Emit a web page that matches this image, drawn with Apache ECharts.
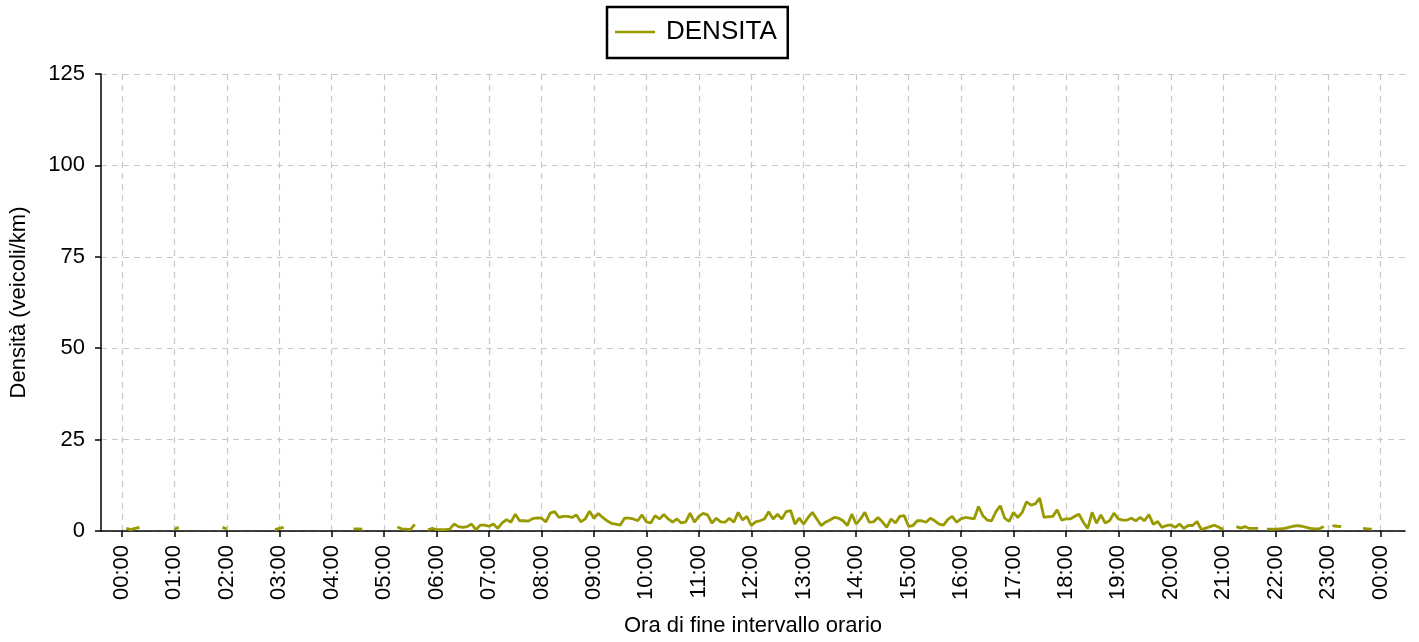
<!DOCTYPE html>
<html>
<head>
<meta charset="utf-8">
<script src="https://cdn.jsdelivr.net/npm/echarts@6/dist/echarts.min.js"></script>
<style>
  html, body { margin: 0; padding: 0; background: #fff; }
  #chart { width: 1419px; height: 642px; }
</style>
</head>
<body>
<div id="chart"></div>
<script>
// Tick positions (minutes from midnight) and labels
const hourTicks = [0, 60, 120, 180, 240, 300, 360, 420, 480, 540, 600, 660, 720,
                   780, 840, 900, 960, 1020, 1080, 1140, 1200, 1260, 1320, 1380, 1440];
const hourLabels = ['00:00','01:00','02:00','03:00','04:00','05:00','06:00','07:00',
                    '08:00','09:00','10:00','11:00','12:00','13:00','14:00','15:00',
                    '16:00','17:00','18:00','19:00','20:00','21:00','22:00','23:00','00:00'];
const yTicks = [0, 25, 50, 75, 100, 125];

// Density (veicoli/km) per 5-minute interval, by interval end (00:05 ... 24:00)
const densitaH00 = [0.7, 0.4, 0.7, 1.0, null, null, null, null, null, null, null, 0.5];
const densitaH01 = [1.0, null, null, null, null, null, null, null, null, null, 1.0, 0.6];
const densitaH02 = [null, null, null, null, null, null, null, null, null, null, 0.4, 0.7];
const densitaH03 = [1.0, null, null, null, null, null, null, null, null, null, null, null];
const densitaH04 = [null, null, null, null, 0.6, 0.6, 0.5, null, null, null, null, null];
const densitaH05 = [null, null, 1.1, 0.6, 0.5, 0.35, 1.8, null, null, 0.35, 0.7, 0.35];
const densitaH06 = [0.35, 0.35, 0.5, 1.9, 1.2, 1.0, 1.2, 1.9, 0.35, 1.6, 1.6, 1.3];
const densitaH07 = [1.9, 0.7, 2.2, 3.1, 2.4, 4.6, 2.8, 2.8, 2.7, 3.4, 3.6, 3.5];
const densitaH08 = [2.5, 4.9, 5.3, 3.7, 4.0, 4.0, 3.7, 4.4, 2.5, 3.3, 5.4, 3.5];
const densitaH09 = [4.8, 3.7, 2.8, 2.1, 1.9, 1.6, 3.5, 3.5, 3.3, 2.8, 4.4, 2.5];
const densitaH10 = [2.2, 4.2, 3.3, 4.5, 3.3, 2.4, 3.3, 2.2, 2.5, 4.9, 2.4, 4.0];
const densitaH11 = [4.8, 4.4, 2.2, 3.5, 2.5, 2.4, 3.5, 2.4, 5.1, 3.0, 4.0, 1.5];
const densitaH12 = [2.5, 2.8, 3.3, 5.3, 3.3, 4.6, 3.3, 5.3, 5.6, 1.9, 3.5, 1.9];
const densitaH13 = [3.7, 5.1, 3.3, 1.5, 2.4, 3.0, 3.7, 3.5, 2.8, 1.5, 4.6, 1.9];
const densitaH14 = [3.3, 5.1, 2.4, 2.5, 3.7, 2.5, 1.0, 3.3, 2.2, 4.0, 4.2, 1.3];
const densitaH15 = [1.5, 2.8, 2.8, 2.4, 3.5, 2.8, 1.9, 1.6, 3.2, 4.0, 2.4, 3.3];
const densitaH16 = [3.7, 3.5, 3.3, 6.7, 4.2, 3.0, 2.8, 5.3, 6.9, 3.5, 2.6, 5.1];
const densitaH17 = [3.7, 5.1, 8.0, 7.1, 7.4, 9.0, 3.7, 3.9, 4.0, 5.8, 3.0, 3.3];
const densitaH18 = [3.3, 4.0, 4.6, 2.4, 0.7, 5.1, 2.1, 4.4, 2.2, 2.8, 4.9, 3.3];
const densitaH19 = [3.0, 3.0, 3.5, 2.8, 3.7, 2.8, 4.5, 1.8, 2.6, 1.0, 1.5, 1.7];
const densitaH20 = [1.0, 1.9, 0.7, 1.5, 1.5, 2.6, 0.4, 0.8, 1.2, 1.6, 1.0, 0.5];
const densitaH21 = [null, null, 1.2, 0.8, 1.2, 0.7, 0.7, 0.7, null, 0.5, 0.5, 0.5];
const densitaH22 = [0.6, 0.7, 1.0, 1.3, 1.5, 1.3, 1.0, 0.7, 0.6, 0.6, 1.2, null];
const densitaH23 = [1.5, 1.3, 1.2, null, null, null, null, 0.7, 0.6, 0.5, null, null];

const densitaValues = [].concat(
  densitaH00, densitaH01, densitaH02, densitaH03, densitaH04, densitaH05,
  densitaH06, densitaH07, densitaH08, densitaH09, densitaH10, densitaH11,
  densitaH12, densitaH13, densitaH14, densitaH15, densitaH16, densitaH17,
  densitaH18, densitaH19, densitaH20, densitaH21, densitaH22, densitaH23);
const slotMinutes = 5;
const seriesData = densitaValues.map((v, i) => [(i + 1) * slotMinutes, v]);

const labelFor = {};
hourTicks.forEach((t, i) => { labelFor[t] = hourLabels[i]; });

const FONT = '"Liberation Sans", Arial, sans-serif';
const LINE_COLOR = '#999900';
const chart = echarts.init(document.getElementById('chart'), null, { renderer: 'canvas' });
chart.setOption({
  animation: false,
  backgroundColor: '#ffffff',
  legend: {
    data: [{ name: 'DENSITA', icon: 'rect' }],
    left: 607,
    top: 7,
    padding: [12, 11, 13, 8],
    borderColor: '#000000',
    borderWidth: 2.5,
    borderRadius: 0,
    itemWidth: 40,
    itemHeight: 2.5,
    itemStyle: { color: LINE_COLOR, borderWidth: 0 },
    textStyle: { fontFamily: FONT, fontSize: 26, color: '#000', padding: [0, 0, 0, 6] }
  },
  grid: { left: 101, right: 14, top: 74, bottom: 110, containLabel: false },
  xAxis: {
    type: 'value',
    min: -24,
    max: 1468,
    name: 'Ora di fine intervallo orario',
    nameLocation: 'middle',
    nameGap: 84,
    nameTextStyle: { fontFamily: FONT, fontSize: 22, color: '#000' },
    axisLine: { show: true, onZero: false, lineStyle: { color: '#000', width: 1.5 } },
    axisTick: { show: true, length: 6, customValues: hourTicks, lineStyle: { color: '#000', width: 1.5 } },
    axisLabel: {
      customValues: hourTicks,
      rotate: 90,
      margin: 14,
      fontFamily: FONT, fontSize: 22, color: '#000',
      formatter: v => labelFor[v] || ''
    },
    splitLine: { show: true, lineStyle: { color: '#c8c8c8', type: [6, 5], width: 1.2 } }
  },
  yAxis: {
    type: 'value',
    min: yTicks[0],
    max: yTicks[yTicks.length - 1],
    interval: 25,
    name: 'Densità (veicoli/km)',
    nameLocation: 'middle',
    nameGap: 71,
    nameTextStyle: { fontFamily: FONT, fontSize: 22, color: '#000' },
    axisLine: { show: true, onZero: false, lineStyle: { color: '#000', width: 1.5 } },
    axisTick: { show: true, length: 6, lineStyle: { color: '#000', width: 1.5 } },
    axisLabel: { margin: 16, fontFamily: FONT, fontSize: 22, color: '#000' },
    splitLine: { show: true, lineStyle: { color: '#c8c8c8', type: [6, 5], width: 1.2 } }
  },
  series: [{
    name: 'DENSITA',
    type: 'line',
    data: seriesData,
    symbol: 'none',
    connectNulls: false,
    lineStyle: { color: LINE_COLOR, width: 2.8 },
    itemStyle: { color: LINE_COLOR }
  }]
});
</script>
</body>
</html>
